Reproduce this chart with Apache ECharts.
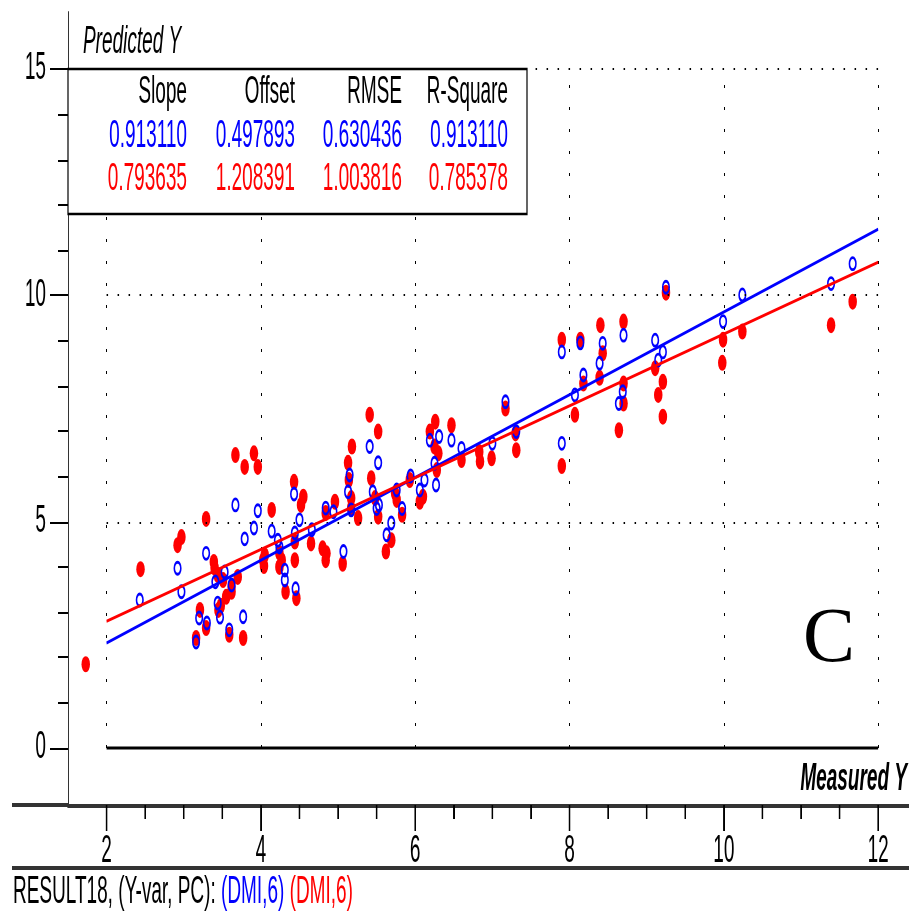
<!DOCTYPE html>
<html><head><meta charset="utf-8">
<script src="https://cdn.jsdelivr.net/npm/echarts@6/dist/echarts.min.js"></script>
<style>
html,body{margin:0;padding:0;background:#fff;width:909px;height:916px;}
#chart{width:909px;height:458px;transform:scaleY(2);transform-origin:0 0;}
</style></head>
<body><div id="chart"></div>
<script>
// ---- data ----
const xTickLabels = [2, 4, 6, 8, 10, 12];
const xMinorTicks = [2.5, 3, 3.5, 4.5, 5, 5.5, 6.5, 7, 7.5, 8.5, 9, 9.5, 10.5, 11, 11.5];
const yTickLabels = [0, 5, 10, 15];
const yMinorTicks = [1, 2, 3, 4, 6, 7, 8, 9, 11, 12, 13, 14];
const gridXValues = [2, 4, 6, 8, 10, 12];
const gridYValues = [5, 10, 15];

const statHeaders = ['Slope', 'Offset', 'RMSE', 'R-Square'];
const blueStats = ['0.913110', '0.497893', '0.630436', '0.913110'];
const redStats  = ['0.793635', '1.208391', '1.003816', '0.785378'];

const bluePoints = [
 [2.43,3.27],[2.92,3.97],[2.97,3.45],[3.29,4.30],[3.67,5.37],[3.96,5.24],[3.91,4.86],[3.79,4.62],
 [3.41,3.67],[3.53,3.89],[3.44,3.20],[3.47,2.89],[3.20,2.87],[3.30,2.76],[3.16,2.34],[3.59,2.61],
 [3.77,2.90],[3.62,3.60],[4.14,4.79],[4.43,5.61],[4.50,5.04],[4.84,5.30],[4.94,5.22],[5.41,6.66],
 [5.52,6.30],[5.15,6.03],[5.13,5.66],[5.45,5.66],[5.53,5.37],[5.50,5.29],[5.69,4.97],[5.63,4.71],
 [5.76,5.70],[5.83,5.29],[5.94,6.01],[6.06,5.70],[6.12,5.92],[6.19,6.80],[6.31,6.88],[6.25,6.29],
 [6.27,5.81],[6.47,6.80],[6.60,6.62],[7.00,6.73],[7.17,7.65],[7.31,6.99],[4.66,4.82],[4.44,4.75],
 [4.31,3.93],[4.22,4.59],[4.24,4.44],[5.07,4.34],[5.17,5.26],[4.31,3.71],[4.45,3.52],[7.90,8.75],
 [8.14,8.95],[8.70,9.12],[8.43,8.94],[8.39,8.50],[8.18,8.24],[8.07,7.80],[8.69,7.87],[8.64,7.61],
 [7.90,6.73],[9.11,9.01],[9.21,8.75],[9.15,8.57],[9.25,10.18],[9.99,9.42],[10.24,10.01],
 [11.39,10.26],[11.67,10.70]
];
const redPoints = [
 [1.73,1.85],[2.44,3.95],[2.92,4.48],[2.97,4.66],[3.29,5.06],[3.39,4.11],[3.44,3.82],[3.40,3.98],
 [3.70,3.78],[3.62,3.45],[3.55,3.34],[3.51,3.71],[3.62,3.56],[3.45,3.05],[3.48,3.14],[3.21,3.05],
 [3.29,2.65],[3.16,2.43],[3.59,2.50],[3.77,2.43],[4.04,4.02],[4.03,4.15],[4.05,4.26],[3.67,6.47],
 [3.79,6.21],[3.91,6.51],[3.96,6.21],[4.14,5.26],[4.43,5.88],[4.55,5.55],[4.52,5.37],[4.96,5.44],
 [4.84,5.19],[4.24,4.31],[4.27,4.15],[4.24,4.00],[4.44,4.56],[4.44,4.15],[4.32,3.45],[4.46,3.31],
 [4.65,4.52],[4.80,4.41],[4.85,4.30],[4.84,4.15],[5.06,4.07],[5.18,6.66],[5.52,6.99],[5.41,7.36],
 [5.13,6.30],[5.14,5.92],[5.17,5.52],[5.17,5.30],[5.43,5.96],[5.48,5.52],[5.52,5.11],[5.26,5.08],
 [5.74,5.63],[5.69,4.59],[5.62,4.34],[5.76,5.48],[5.83,5.15],[5.93,5.92],[6.06,5.44],[6.10,5.55],
 [6.19,6.99],[6.26,7.21],[6.25,6.66],[6.30,6.51],[6.28,6.14],[6.47,7.13],[6.60,6.36],[6.83,6.54],
 [6.84,6.33],[6.99,6.40],[7.17,7.50],[7.30,6.95],[7.31,6.58],[7.90,9.02],[8.14,9.02],[8.40,9.34],
 [8.70,9.42],[8.43,8.72],[8.18,8.05],[8.39,8.18],[8.07,7.36],[8.70,8.05],[8.70,7.61],[8.64,7.02],
 [7.90,6.23],[9.11,8.39],[9.21,8.09],[9.15,7.80],[9.21,7.32],[9.25,10.06],[9.98,8.51],[9.99,9.02],
 [10.24,9.20],[11.39,9.34],[11.67,9.86]
];
const blueFit = [[2, 2.32], [12, 11.46]];
const redFit  = [[2, 2.80], [12, 10.73]];

// ---- chart ----
const FONT = "'Liberation Sans', Arial, sans-serif";
const BLUE = '#0000ff', RED = '#ff0000';
const CHART_H = 458;
const X_MIN = 1.5, X_MAX = 12.4, Y_MIN = -1.26, Y_MAX = 16.26;
const gridBox = { left: 68, right: 0, top: 6, bottom: 55.5 };
const AXIS_ROW = CHART_H - gridBox.bottom;
const MAJOR_TICK_LEN = 13, MINOR_TICK_LEN = 7;

const dotted = [];
gridXValues.forEach(v => dotted.push([{ coord: [v, 0] }, { coord: [v, 15] }]));
gridYValues.forEach(v => dotted.push([{ coord: [2, v] }, { coord: [12, v] }]));
const zeroLine = [[{ coord: [2, 0] }, { coord: [12, 0] }]];

const chart = echarts.init(document.getElementById('chart'), null, { renderer: 'canvas', devicePixelRatio: 2 });

function statTexts(arr, y, color) {
  const rightX = [187, 295, 402, 508];
  return arr.map((t, i) => ({
    type: 'text', x: rightX[i], y: y, z: 102,
    style: { text: t, fill: color, font: '19px ' + FONT, textAlign: 'right', align: 'right',
             textVerticalAlign: 'middle', verticalAlign: 'middle' }
  }));
}

const baseGraphic = [
  { type: 'rect', z: 100, shape: { x: 68, y: 34.5, width: 459, height: 72.5 },
    style: { fill: '#fff', stroke: '#000', lineWidth: 1.2 } },
  { type: 'rect', z: 100, shape: { x: 12, y: AXIS_ROW - 1, width: 56, height: 2 },
    style: { fill: '#333' } },
  { type: 'rect', z: 100, shape: { x: 12, y: 433, width: 897, height: 2 },
    style: { fill: '#333' } },
  { type: 'text', z: 102, x: 83, y: 21,
    style: { text: 'Predicted Y', fill: '#000', font: 'italic 19px ' + FONT,
             textAlign: 'left', align: 'left', textVerticalAlign: 'middle', verticalAlign: 'middle' } },
  { type: 'text', z: 102, x: 907, y: 390,
    style: { text: 'Measured Y', fill: '#000', font: 'italic bold 19px ' + FONT,
             textAlign: 'right', align: 'right', textVerticalAlign: 'middle', verticalAlign: 'middle' } },
  { type: 'text', z: 102, x: 829, y: 320.5, scaleY: 0.5,
    style: { text: 'C', fill: '#000', font: '78px "Liberation Serif", "Times New Roman", serif',
             textAlign: 'center', align: 'center', textVerticalAlign: 'middle', verticalAlign: 'middle' } }
].concat(statTexts(statHeaders, 46.5, '#000'))
 .concat(statTexts(blueStats, 68.5, BLUE))
 .concat(statTexts(redStats, 90, RED));

chart.setOption({
  animation: false,
  backgroundColor: '#fff',
  grid: [Object.assign({}, gridBox), Object.assign({}, gridBox)],
  xAxis: [{
    type: 'value', gridIndex: 0, min: X_MIN, max: X_MAX, position: 'bottom',
    axisLine: { show: true, onZero: false, lineStyle: { color: '#333', width: 2 } },
    axisTick: { show: true, inside: false, customValues: xTickLabels, length: MAJOR_TICK_LEN,
                lineStyle: { color: '#000', width: 1 } },
    axisLabel: { show: true, customValues: xTickLabels, margin: 14, color: '#000', fontSize: 19, fontFamily: FONT },
    splitLine: { show: false }
  }, {
    type: 'value', gridIndex: 1, min: X_MIN, max: X_MAX, position: 'bottom',
    axisLine: { show: false, onZero: false },
    axisTick: { show: true, inside: false, customValues: xMinorTicks, length: MINOR_TICK_LEN,
                lineStyle: { color: '#000', width: 1 } },
    axisLabel: { show: false }, splitLine: { show: false }
  }],
  yAxis: [{
    type: 'value', gridIndex: 0, min: Y_MIN, max: Y_MAX, position: 'left',
    axisLine: { show: true, onZero: false, lineStyle: { color: '#333', width: 1 } },
    axisTick: { show: true, customValues: yTickLabels, length: 18, lineStyle: { color: '#000', width: 1 } },
    axisLabel: { show: true, customValues: yTickLabels, margin: 22, color: '#000', fontSize: 19, fontFamily: FONT },
    splitLine: { show: false }
  }, {
    type: 'value', gridIndex: 1, min: Y_MIN, max: Y_MAX, position: 'left',
    axisLine: { show: false, onZero: false },
    axisTick: { show: true, customValues: yMinorTicks, length: 10, lineStyle: { color: '#000', width: 1 } },
    axisLabel: { show: false }, splitLine: { show: false }
  }],
  title: {
    text: '{k|RESULT18, (Y-var, PC): }{b|(DMI,6)} {r|(DMI,6)}',
    left: 13, top: 437, padding: 0,
    textStyle: {
      fontSize: 19, fontFamily: FONT, fontWeight: 'normal',
      rich: {
        k: { color: '#000', fontSize: 19, fontFamily: FONT },
        b: { color: BLUE, fontSize: 19, fontFamily: FONT },
        r: { color: RED, fontSize: 19, fontFamily: FONT }
      }
    }
  },
  series: [{
    type: 'line', data: [], xAxisIndex: 0, yAxisIndex: 0, silent: true, z: 1,
    markLine: {
      silent: true, symbol: ['none', 'none'], label: { show: false },
      lineStyle: { color: '#000', type: [1.5, 9.5], width: 1 },
      emphasis: { disabled: true },
      data: dotted
    }
  }, {
    type: 'line', data: [], xAxisIndex: 0, yAxisIndex: 0, silent: true, z: 1,
    markLine: {
      silent: true, symbol: ['none', 'none'], label: { show: false },
      lineStyle: { color: '#000', type: 'solid', width: 1.5 },
      emphasis: { disabled: true },
      data: zeroLine
    }
  }, {
    name: 'Red', type: 'scatter', data: redPoints, z: 3, silent: true,
    symbol: 'circle', symbolSize: [8.5, 8],
    itemStyle: { color: RED, opacity: 1 }
  }, {
    name: 'Blue', type: 'scatter', data: bluePoints, z: 4, silent: true,
    symbol: 'circle', symbolSize: [6.5, 6],
    itemStyle: { color: 'rgba(0,0,0,0)', borderColor: BLUE, borderWidth: 1.5, opacity: 1 }
  }, {
    name: 'BlueFit', type: 'line', data: blueFit, z: 5, silent: true, symbol: 'none',
    lineStyle: { color: BLUE, width: 1.5 }
  }, {
    name: 'RedFit', type: 'line', data: redFit, z: 5, silent: true, symbol: 'none',
    lineStyle: { color: RED, width: 1.5 }
  }],
  graphic: baseGraphic
});

// x-axis ticks also drawn from the library's own x scale (in case axis ticks are suppressed)
function xPixel(v) {
  let p = chart.convertToPixel({ xAxisIndex: 0 }, v);
  if (Array.isArray(p)) p = p[0];
  if (typeof p !== 'number' || !isFinite(p)) {
    p = chart.convertToPixel({ gridIndex: 0 }, [v, 0])[0];
  }
  return p;
}
function tickRect(v, len) {
  const px = xPixel(v);
  return { type: 'rect', z: 100, silent: true,
    shape: { x: px - 0.75, y: AXIS_ROW, width: 1.5, height: len }, style: { fill: '#000' } };
}
const tickGraphic = xTickLabels.map(v => tickRect(v, MAJOR_TICK_LEN))
  .concat(xMinorTicks.map(v => tickRect(v, MINOR_TICK_LEN)));
chart.setOption({ graphic: baseGraphic.concat(tickGraphic) });
</script>
</body></html>
